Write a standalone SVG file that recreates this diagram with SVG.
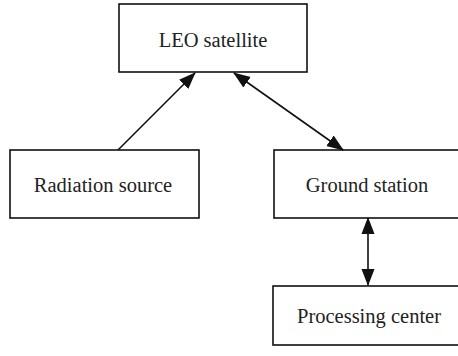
<svg xmlns="http://www.w3.org/2000/svg" width="458" height="356" viewBox="0 0 458 356">
<style>
.box{fill:#fff;stroke:#111;stroke-width:1.6}
.lbl{font-family:"Liberation Serif","Times New Roman",serif;font-size:20.5px;fill:#222;text-anchor:middle}
.con{stroke:#111;stroke-width:1.6;fill:none}
</style>
<defs>
<marker id="ah" markerUnits="userSpaceOnUse" markerWidth="18" markerHeight="16" refX="16" refY="8" orient="auto-start-reverse" viewBox="0 0 18 16">
<path d="M0,1.5 L17,8 L0,14.5 Z" fill="#111"/>
</marker>
</defs>
<rect width="458" height="356" fill="#fff"/>
<g id="leo"><rect class="box" x="119" y="4" width="188" height="68"/><text class="lbl" x="213" y="47">LEO satellite</text></g>
<g id="radiation"><rect class="box" x="10" y="150" width="189" height="68"/><text class="lbl" x="103" y="191.5">Radiation source</text></g>
<g id="ground"><rect class="box" x="274" y="150" width="188" height="68"/><text class="lbl" x="367" y="191.5">Ground station</text></g>
<g id="processing"><rect class="box" x="273" y="286" width="192" height="59"/><text class="lbl" x="369" y="322.5">Processing center</text></g>
<g id="connectors">
<line class="con" x1="118" y1="150" x2="195" y2="73" marker-end="url(#ah)"/>
<line class="con" x1="234" y1="73" x2="343" y2="150" marker-start="url(#ah)" marker-end="url(#ah)"/>
<line class="con" x1="368" y1="218" x2="368" y2="285" marker-start="url(#ah)" marker-end="url(#ah)"/>
</g>
</svg>
